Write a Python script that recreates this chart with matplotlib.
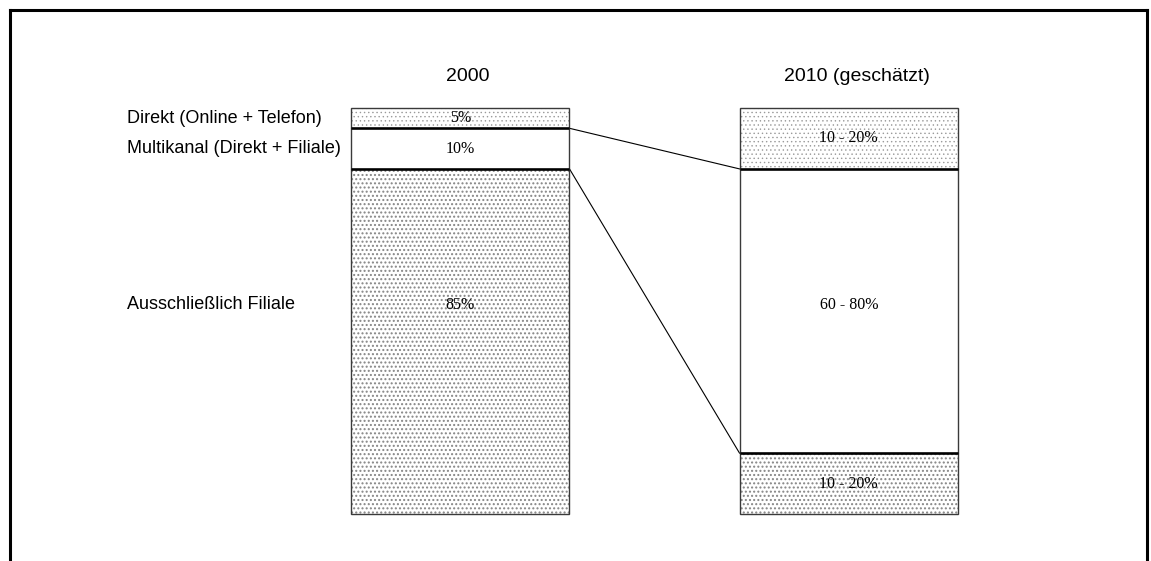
import matplotlib
matplotlib.use("Agg")
import matplotlib.pyplot as plt
from matplotlib.lines import Line2D

# Channel shares per year (bottom -> top): branch only, multichannel, direct
years = ["2000", "2010 (geschätzt)"]
segments = ["Ausschließlich Filiale", "Multikanal (Direkt + Filiale)", "Direkt (Online + Telefon)"]
share_2000 = [85, 10, 5]
share_2010 = [15, 70, 15]          # midpoints of the estimated ranges
labels_2000 = ["85%", "10%", "5%"]
labels_2010 = ["10 - 20%", "60 - 80%", "10 - 20%"]

W, H = 1151, 561
fig = plt.figure(figsize=(W / 100, H / 100), dpi=100)

# outer frame (open at the bottom)
for xs, ys in [([10 / W, 10 / W], [0, 1 - 10 / H]),
               ([10 / W, 1147 / W], [1 - 10 / H, 1 - 10 / H]),
               ([1147 / W, 1147 / W], [0, 1 - 10 / H])]:
    fig.add_artist(Line2D(xs, ys, transform=fig.transFigure, color="black", lw=2.2))

bar_w = 0.5624
ax = fig.add_axes([351 / W, (H - 514) / H, 607 / W, 406 / H])
ax.set_xlim(-bar_w / 2, 1 + bar_w / 2)
ax.set_ylim(0, 100)
ax.axis("off")

# (hatch, hatch colour, hatch line width) per segment
styles = [("....", "#858585", 0.95), (None, None, None), ("....", "#9a9a9a", 0.5)]
for xi, shares in [(0, share_2000), (1, share_2010)]:
    bottom = 0
    for k, v in enumerate(shares):
        hatch, hc, hlw = styles[k]
        if hatch:
            with plt.rc_context({"hatch.linewidth": hlw}):
                ax.bar(xi, v, bottom=bottom, width=bar_w, color="white", edgecolor=hc,
                       lw=0, hatch=hatch, zorder=2, clip_on=False)
        ax.bar(xi, v, bottom=bottom, width=bar_w, fill=False, edgecolor="#3a3a3a",
               lw=1.0, zorder=3, clip_on=False)
        bottom += v
    # bold edges of the multichannel block
    lo, hi = shares[0], shares[0] + shares[1]
    for y in (lo, hi):
        ax.plot([xi - bar_w / 2, xi + bar_w / 2], [y, y], color="black", lw=1.8,
                zorder=4, clip_on=False, solid_capstyle="butt")

serif = dict(ha="center", va="center", family="Liberation Serif", fontsize=11.5, zorder=5)
ax.text(0, 51.5, labels_2000[0], **serif)
ax.text(0, share_2000[0] + share_2000[1] / 2, labels_2000[1], **serif)
ax.text(0, share_2000[0] + share_2000[1] + share_2000[2] / 2, labels_2000[2], **serif)
ax.text(1, share_2010[0] / 2, labels_2010[0], **serif)
ax.text(1, 51.5, labels_2010[1], **serif)
ax.text(1, share_2010[0] + share_2010[1] + share_2010[2] / 2, labels_2010[2], **serif)

# connectors between the multichannel blocks
ax.plot([bar_w / 2, 1 - bar_w / 2], [share_2000[0] + share_2000[1], share_2010[0] + share_2010[1]],
        color="black", lw=0.8, zorder=1)
ax.plot([bar_w / 2, 1 - bar_w / 2], [share_2000[0], share_2010[0]], color="black", lw=0.8, zorder=1)

# year headings
for xi, yr in enumerate(years):
    ax.text(xi + 0.02, 107.8, yr, ha="center", va="center", family="Liberation Sans",
            fontsize=14, clip_on=False)

# segment names on the left
seg_y = [51.5, share_2000[0] + share_2000[1] / 2, share_2000[0] + share_2000[1] + share_2000[2] / 2]
x_name = -bar_w / 2 - 224 / 607 * (1 + bar_w)
for name, y in zip(segments, seg_y):
    ax.text(x_name, y, name, family="Liberation Sans", fontsize=13,
            va="center", ha="left", clip_on=False)

fig.savefig("out.png", dpi=100)
